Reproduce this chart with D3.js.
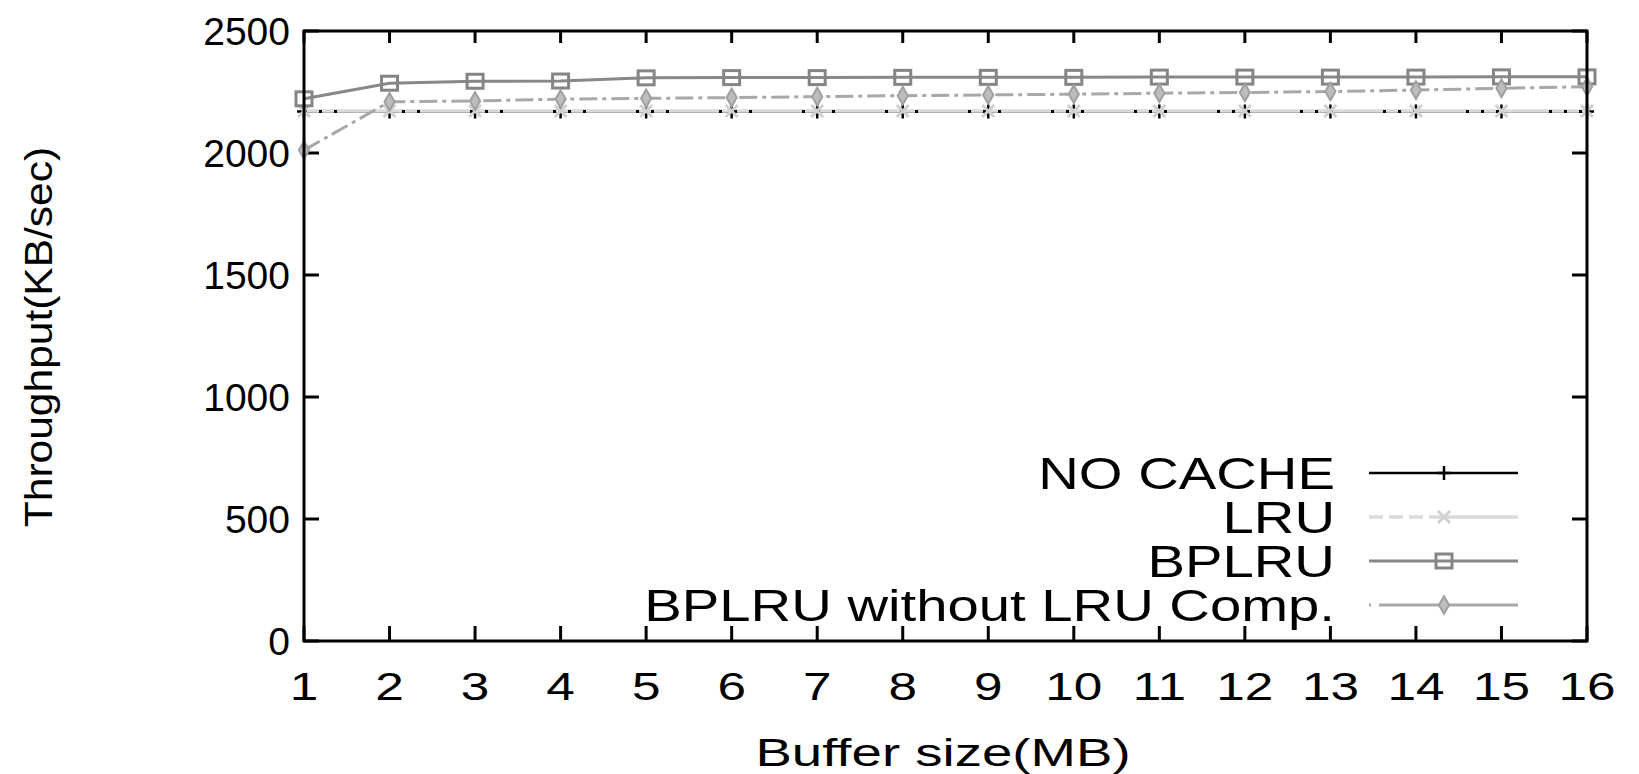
<!DOCTYPE html>
<html>
<head>
<meta charset="utf-8">
<script src="https://cdn.jsdelivr.net/npm/d3@7"></script>
<style>
body { margin: 0; background: #fff; }
svg { display: block; }
text { font-family: "Liberation Sans", Arial, sans-serif; fill: #000; }
</style>
</head>
<body>
<svg id="chart" width="1639" height="774"></svg>
<script>
// data
var bufferSizes = [1, 2, 3, 4, 5, 6, 7, 8, 9, 10, 11, 12, 13, 14, 15, 16];
var yTickValues = [0, 500, 1000, 1500, 2000, 2500];
var noCache = [2170, 2170, 2170, 2170, 2170, 2170, 2170, 2170, 2170, 2170, 2170, 2170, 2170, 2170, 2170, 2170];
var lru = [2172, 2172, 2172, 2172, 2172, 2172, 2172, 2172, 2172, 2172, 2172, 2172, 2172, 2172, 2172, 2172];
var bplru = [2222, 2286, 2294, 2295, 2308, 2309, 2309, 2310, 2310, 2310, 2311, 2311, 2311, 2311, 2312, 2312];
var bplruNoComp = [2012, 2210, 2213, 2221, 2224, 2227, 2231, 2235, 2238, 2241, 2245, 2248, 2252, 2258, 2265, 2272];
var seriesNames = ["NO CACHE", "LRU", "BPLRU", "BPLRU without LRU Comp."];

var plotLeft = 304, plotRight = 1587, plotTop = 31, plotBottom = 641;
var svg = d3.select("#chart");

var x = d3.scaleLinear().domain([1, 16]).range([plotLeft, plotRight]);
var y = d3.scaleLinear().domain([0, 2500]).range([plotBottom, plotTop]);

var series = [
  { name: seriesNames[0], values: noCache, color: "#000", width: 2.5, dash: null, marker: "plus" },
  { name: seriesNames[1], values: lru, color: "#dadada", width: 3.5, dash: null, marker: "cross" },
  { name: seriesNames[2], values: bplru, color: "#888", width: 3, dash: null, marker: "square" },
  { name: seriesNames[3], values: bplruNoComp, color: "#a8a8a8", width: 3, dash: "18,5,4,5", marker: "diamond" }
];

function drawMarker(g, type, cx, cy) {
  if (type == "plus") {
    g.append("path").attr("d", "M" + (cx - 7) + "," + cy + "H" + (cx + 7) + "M" + cx + "," + (cy - 7) + "V" + (cy + 7))
      .attr("stroke", "#000").attr("stroke-width", 2.5).attr("fill", "none");
  } else if (type == "cross") {
    g.append("path").attr("d", "M" + (cx - 6) + "," + (cy - 6) + "L" + (cx + 6) + "," + (cy + 6) + "M" + (cx - 6) + "," + (cy + 6) + "L" + (cx + 6) + "," + (cy - 6))
      .attr("stroke", "#d0d0d0").attr("stroke-width", 3).attr("fill", "none");
  } else if (type == "square") {
    g.append("rect").attr("x", cx - 8).attr("y", cy - 7).attr("width", 16).attr("height", 14)
      .attr("stroke", "#858585").attr("stroke-width", 3).attr("fill", "none");
  } else {
    g.append("path").attr("d", d3.symbol().type(d3.symbolDiamond).size(90)())
      .attr("transform", "translate(" + cx + "," + cy + ")")
      .attr("fill", "#bdbdbd").attr("stroke", "#a0a0a0").attr("stroke-width", 2);
  }
}

// frame ticks (inward, mirrored)
var ticks = svg.append("g").attr("stroke", "#000").attr("stroke-width", 3);
yTickValues.forEach(function (v) {
  ticks.append("line").attr("x1", plotLeft).attr("x2", plotLeft + 15).attr("y1", y(v)).attr("y2", y(v));
  ticks.append("line").attr("x1", plotRight).attr("x2", plotRight - 15).attr("y1", y(v)).attr("y2", y(v));
});
bufferSizes.forEach(function (v) {
  ticks.append("line").attr("x1", x(v)).attr("x2", x(v)).attr("y1", plotBottom).attr("y2", plotBottom - 15);
  ticks.append("line").attr("x1", x(v)).attr("x2", x(v)).attr("y1", plotTop).attr("y2", plotTop + 12);
});

// tick labels
svg.append("g").selectAll("text").data(yTickValues).join("text")
  .attr("x", 290).attr("y", function (d) { return y(d); }).attr("dy", "0.36em")
  .attr("text-anchor", "end").style("font-size", "39px").text(function (d) { return d; });

svg.append("g").selectAll("text").data(bufferSizes).join("text")
  .attr("transform", function (d) { return "translate(" + x(d) + ",700) scale(1.35,1)"; })
  .attr("text-anchor", "middle").style("font-size", "38px").text(function (d) { return d; });

// axis titles
svg.append("text").attr("transform", "translate(943,766) scale(1.4,1)")
  .attr("text-anchor", "middle").style("font-size", "39px").text("Buffer size(MB)");
svg.append("text").attr("transform", "translate(52,337) rotate(-90) scale(1.09,1)")
  .attr("text-anchor", "middle").style("font-size", "39px").text("Throughput(KB/sec)");

// lines
var line = d3.line().x(function (d, i) { return x(bufferSizes[i]); }).y(function (d) { return y(d); });
var plot = svg.append("g");
series.forEach(function (s) {
  plot.append("path").attr("d", line(s.values)).attr("fill", "none")
    .attr("stroke", s.color).attr("stroke-width", s.width).attr("stroke-dasharray", s.dash);
  if (s.marker == "cross") {
    // the black line shows through gaps of the LRU line
    plot.append("path").attr("d", line(noCache)).attr("fill", "none")
      .attr("stroke", "#000").attr("stroke-width", 3).attr("stroke-dasharray", "3,12,3,12,3,50");
  }
  var mg = plot.append("g");
  s.values.forEach(function (v, i) { drawMarker(mg, s.marker, x(bufferSizes[i]), y(v)); });
});

// legend
var legend = svg.append("g");
series.forEach(function (s, i) {
  var ly = 473 + i * 44;
  legend.append("text").attr("transform", "translate(1335," + (ly + 16) + ") scale(1.25,1)")
    .attr("text-anchor", "end").style("font-size", "45px").text(s.name);
  legend.append("line").attr("x1", 1369).attr("x2", 1518).attr("y1", ly).attr("y2", ly)
    .attr("stroke", s.color).attr("stroke-width", s.width).attr("stroke-dasharray", s.marker == "cross" ? "14,6,14,6,14,6,200" : (s.dash ? "2,8,200" : null));
  drawMarker(legend, s.marker, 1444, ly);
});

// frame
svg.append("rect").attr("x", plotLeft).attr("y", plotTop).attr("width", plotRight - plotLeft).attr("height", plotBottom - plotTop)
  .attr("fill", "none").attr("stroke", "#000").attr("stroke-width", 3);
</script>
</body>
</html>
